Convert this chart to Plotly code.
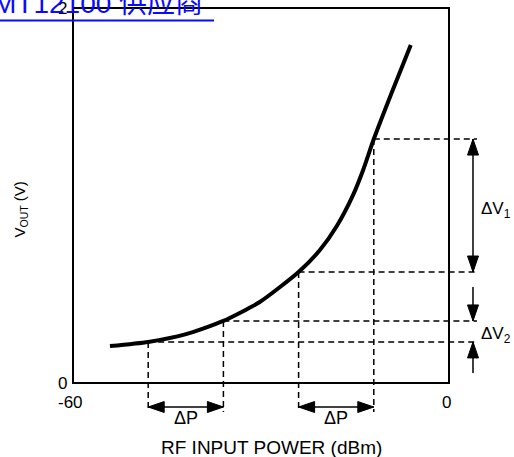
import plotly.graph_objects as go

# ---------------- data ----------------
power_dbm = [-54.1, -48.0, -42.1, -36.0, -30.2, -24.0, -20.6, -17.9, -15.3, -13.7, -12.0, -9.1, -6.1]
vout_v = [0.197, 0.219, 0.259, 0.331, 0.432, 0.592, 0.709, 0.837, 1.003, 1.136, 1.301, 1.552, 1.803]
step_power = [-48.0, -36.0, -24.0, -12.0]
step_vout = [0.219, 0.331, 0.592, 1.301]
x_ticks = [-60, 0]
x_tick_labels = ["-60", "0"]
y_ticks = [0, 2]
y_tick_labels = ["0", "2"]
x_title = "RF INPUT POWER (dBm)"
y_title = "V<sub>OUT</sub> (V)"
dp_label = "ΔP"
dv_labels = ["ΔV<sub>1</sub>", "ΔV<sub>2</sub>"]
watermark = "MT12100 供应商"

# ---------------- layout geometry (pixels) ----------------
W, H = 514, 457
FL, FR, FT, FB = 73, 449, 8, 383  # frame edges
X_MIN, X_MAX = x_ticks[0], x_ticks[-1]
Y_MIN, Y_MAX = y_ticks[0], y_ticks[-1]
sx = (X_MAX - X_MIN) / (FR - FL)
sy = (Y_MAX - Y_MIN) / (FB - FT)
x_range = [X_MIN - FL * sx, X_MAX + (W - FR) * sx]
y_range = [Y_MIN - (H - FB) * sy, Y_MAX + FT * sy]

FONT = "Liberation Sans, Arial, sans-serif"
BLACK = "black"
DASH = "6px,4px"

fig = go.Figure()
fig.add_trace(go.Scatter(
    x=power_dbm, y=vout_v, mode="lines",
    line=dict(color=BLACK, width=4, shape="spline", smoothing=0.6),
    hoverinfo="skip", showlegend=False))

shapes = []
# frame
shapes.append(dict(type="rect", xref="x", yref="y", x0=X_MIN, x1=X_MAX, y0=Y_MIN, y1=Y_MAX,
                   line=dict(color=BLACK, width=2), layer="below"))

# dashed guide lines
x_dash_end = X_MAX + 28 * sx
y_dash_end = Y_MIN - 29 * sy
for p, v in zip(step_power, step_vout):
    shapes.append(dict(type="line", xref="x", yref="y", x0=p, x1=p, y0=v, y1=y_dash_end,
                       line=dict(color=BLACK, width=1.5, dash=DASH)))
    shapes.append(dict(type="line", xref="x", yref="y", x0=p, x1=x_dash_end, y0=v, y1=v,
                       line=dict(color=BLACK, width=1.5, dash=DASH)))

HL, HW = 16, 5.5  # arrowhead length / half width in px
head_paths = {
    "left": f"M0,0 L{HL},{HW} L{HL},{-HW} Z",
    "right": f"M0,0 L{-HL},{HW} L{-HL},{-HW} Z",
    "up": f"M0,0 L{-HW},{-HL} L{HW},{-HL} Z",
    "down": f"M0,0 L{-HW},{HL} L{HW},{HL} Z",
}


def head(x, y, direction):
    shapes.append(dict(type="path", xref="x", yref="y", xsizemode="pixel", ysizemode="pixel",
                       xanchor=x, yanchor=y, path=head_paths[direction],
                       fillcolor=BLACK, line=dict(color=BLACK, width=1)))


def seg(x0, y0, x1, y1):
    shapes.append(dict(type="line", xref="x", yref="y", x0=x0, x1=x1, y0=y0, y1=y1,
                       line=dict(color=BLACK, width=1.5)))


# ΔP arrows
y_dp = Y_MIN - 24 * sy
for a, b in [(step_power[0], step_power[1]), (step_power[2], step_power[3])]:
    seg(a, y_dp, b, y_dp)
    head(a, y_dp, "left")
    head(b, y_dp, "right")

# ΔV1 arrow
x_dv = X_MAX + 24 * sx
seg(x_dv, step_vout[2], x_dv, step_vout[3])
head(x_dv, step_vout[3], "up")
head(x_dv, step_vout[2], "down")

# ΔV2 arrows (pointing inward)
seg(x_dv, step_vout[1], x_dv, step_vout[1] + 34 * sy)
head(x_dv, step_vout[1], "down")
seg(x_dv, step_vout[0], x_dv, step_vout[0] - 31 * sy)
head(x_dv, step_vout[0], "up")

# watermark underline
shapes.append(dict(type="line", xref="paper", yref="paper", x0=0, x1=214 / W,
                   y0=1 - 20.5 / H, y1=1 - 20.5 / H, line=dict(color="#0a0aff", width=2)))

annotations = []
for t, lab in zip(x_ticks, x_tick_labels):
    annotations.append(dict(x=t, y=Y_MIN, xref="x", yref="y", text=lab, showarrow=False,
                            xshift=-3, yshift=-19, font=dict(size=17, color=BLACK, family=FONT)))
for t, lab in zip(y_ticks, y_tick_labels):
    annotations.append(dict(x=X_MIN, y=t, xref="x", yref="y", text=lab, showarrow=False,
                            xshift=-11, yshift=0, font=dict(size=17, color=BLACK, family=FONT)))
annotations.append(dict(x=(X_MIN + X_MAX) / 2, y=Y_MIN, xref="x", yref="y", text=x_title,
                        showarrow=False, xshift=10, yshift=-64,
                        font=dict(size=19, color=BLACK, family=FONT)))
annotations.append(dict(x=X_MIN, y=(Y_MIN + Y_MAX) / 2, xref="x", yref="y", text=y_title,
                        showarrow=False, xshift=-53, yshift=-14, textangle=-90,
                        font=dict(size=15, color=BLACK, family=FONT)))
for a, b in [(step_power[0], step_power[1]), (step_power[2], step_power[3])]:
    annotations.append(dict(x=(a + b) / 2, y=Y_MIN, xref="x", yref="y", text=dp_label,
                            showarrow=False, yshift=-35,
                            font=dict(size=18, color=BLACK, family=FONT)))
annotations.append(dict(x=X_MAX, y=(step_vout[2] + step_vout[3]) / 2, xref="x", yref="y",
                        text=dv_labels[0], showarrow=False, xshift=47, yshift=-4,
                        font=dict(size=17, color=BLACK, family=FONT)))
annotations.append(dict(x=X_MAX, y=(step_vout[0] + step_vout[1]) / 2, xref="x", yref="y",
                        text=dv_labels[1], showarrow=False, xshift=47, yshift=-4,
                        font=dict(size=17, color=BLACK, family=FONT)))
annotations.append(dict(x=-9 / W, y=1 - 4 / H, xref="paper", yref="paper", text=watermark,
                        showarrow=False, xanchor="left", yanchor="middle",
                        font=dict(size=28, color="#0a0aff",
                                  family="Liberation Sans, Arial, Noto Sans CJK SC")))

fig.update_layout(
    width=W, height=H, margin=dict(l=0, r=0, t=0, b=0),
    paper_bgcolor="white", plot_bgcolor="white",
    xaxis=dict(range=x_range, visible=False, fixedrange=True),
    yaxis=dict(range=y_range, visible=False, fixedrange=True),
    shapes=shapes, annotations=annotations, showlegend=False,
)
fig.write_html("out.html", config={"displayModeBar": False},
               post_script="document.body.style.margin='0';document.body.style.overflow='hidden';")
